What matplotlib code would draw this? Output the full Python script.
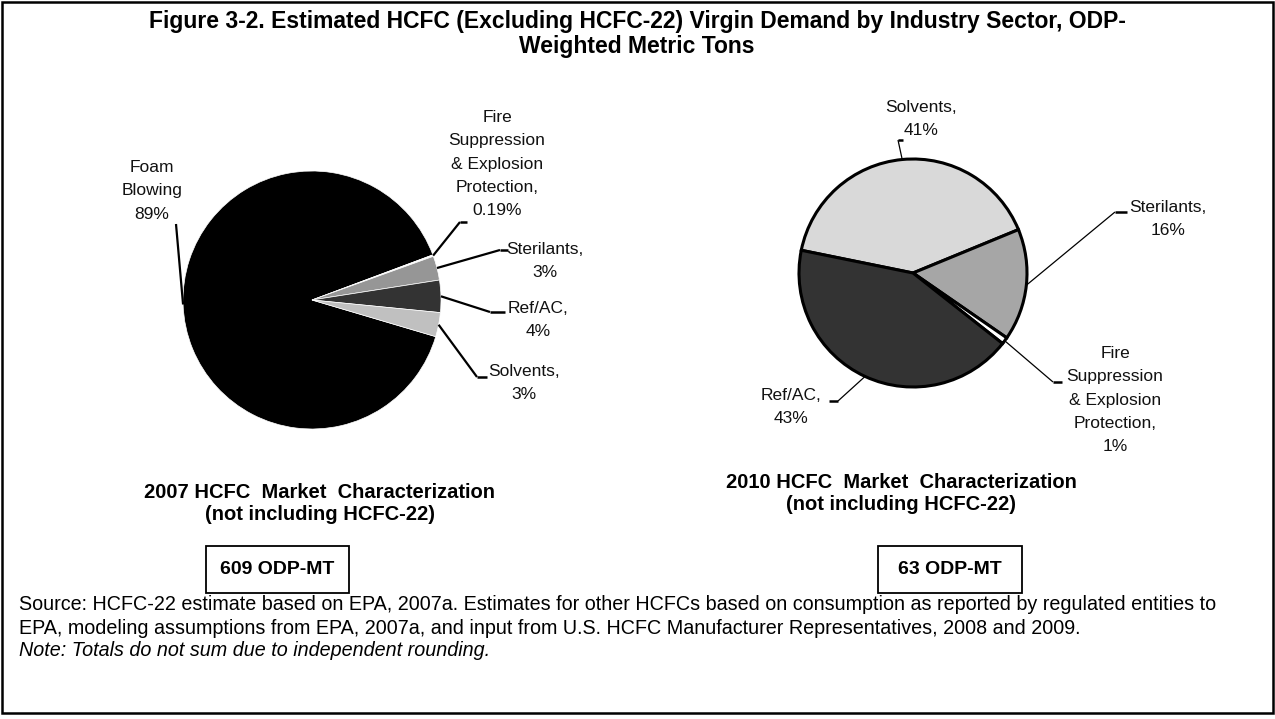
import numpy as np
import matplotlib
matplotlib.use("Agg")
import matplotlib.pyplot as plt
from matplotlib import font_manager
from matplotlib.patches import Rectangle

W, H = 1275, 719

# 2007: clockwise from the Solvents/Foam border
share_2007 = [89, 0.19, 3, 4, 3]
labels_2007 = ["Foam\nBlowing\n89%",
               "Fire\nSuppression\n& Explosion\nProtection,\n0.19%",
               "Sterilants,\n3%", "Ref/AC,\n4%", "Solvents,\n3%"]
colors_2007 = ["#000000", "#ffffff", "#969696", "#333333", "#c0c0c0"]

# 2010: clockwise from the Ref/AC/Solvents border
share_2010 = [41, 16, 1, 43]
labels_2010 = ["Solvents,\n41%", "Sterilants,\n16%",
               "Fire\nSuppression\n& Explosion\nProtection,\n1%", "Ref/AC,\n43%"]
colors_2010 = ["#d9d9d9", "#a6a6a6", "#ffffff", "#333333"]

totals = ["609 ODP-MT", "63 ODP-MT"]
subtitles = ["2007 HCFC  Market  Characterization\n(not including HCFC-22)",
             "2010 HCFC  Market  Characterization\n(not including HCFC-22)"]

TITLE = ("Figure 3-2. Estimated HCFC (Excluding HCFC-22) Virgin Demand by Industry Sector, ODP-\n"
         "Weighted Metric Tons")
SOURCE = ["Source: HCFC-22 estimate based on EPA, 2007a. Estimates for other HCFCs based on consumption as reported by regulated entities to",
          "EPA, modeling assumptions from EPA, 2007a, and input from U.S. HCFC Manufacturer Representatives, 2008 and 2009."]
NOTE = "Note: Totals do not sum due to independent rounding."

names = {f.name for f in font_manager.fontManager.ttflist}
NARROW = next((n for n in ["Liberation Sans Narrow", "Arial Narrow"] if n in names), None)
WIDE = "Liberation Sans"
lab_font = NARROW or WIDE
lab_size = 14.5 if NARROW else 12.5
src_size = 17 if NARROW else 14.2

fig = plt.figure(figsize=(W / 100, H / 100), dpi=100)
fig.patch.set_facecolor("white")


def pie_axes(cx, cy, r, pad=6):
    ax = fig.add_axes([(cx - r - pad) / W, 1 - (cy + r + pad) / H,
                       2 * (r + pad) / W, 2 * (r + pad) / H])
    ax.axis("off")
    return ax


# pie geometry in pixels (centre x, centre y, radius)
pie1 = (312, 300, 129)
pie2 = (913, 273, 114)

ax1 = pie_axes(*pie1)
w1, _ = ax1.pie(share_2007, colors=colors_2007, startangle=-16.5, counterclock=False,
                radius=1, wedgeprops=dict(edgecolor="white", linewidth=0.5))
lim = (pie1[2] + 6) / pie1[2]
ax1.set_xlim(-lim, lim); ax1.set_ylim(-lim, lim)

ax2 = pie_axes(*pie2)
w2, _ = ax2.pie(share_2010, colors=colors_2010, startangle=168.5, counterclock=False,
                radius=1, wedgeprops=dict(edgecolor="black", linewidth=2.2))
lim = (pie2[2] + 6) / pie2[2]
ax2.set_xlim(-lim, lim); ax2.set_ylim(-lim, lim)

ov = fig.add_axes([0, 0, 1, 1])
ov.set_xlim(0, W)
ov.set_ylim(H, 0)
ov.axis("off")
ov.patch.set_alpha(0)

# label placement: text centre, elbow point, end of short horizontal tick
lay_2007 = [((152, 191), (176, 224), None),
            ((497, 164), (460, 222), (467, 222)),
            ((545, 261), (500, 250), (508, 250)),
            ((538, 320), (490, 312), (505, 312)),
            ((524, 383), (477, 377), (487, 377))]
lay_2010 = [((921, 119), (898, 140), (903, 140)),
            ((1168, 219), (1115, 212), (1127, 212)),
            ((1115, 400), (1053, 382), (1062, 382)),
            ((791, 407), (838, 401), (829, 401))]


def leaders(wedges, labels, lay, pie, lw):
    cx, cy, r = pie
    for w, lab, (tpos, elbow, tick) in zip(wedges, labels, lay):
        m = np.deg2rad((w.theta1 + w.theta2) / 2)
        ex, ey = cx + r * np.cos(m), cy - r * np.sin(m)
        ov.plot([ex, elbow[0]], [ey, elbow[1]], color="black", lw=lw, solid_capstyle="butt")
        if tick is not None:
            ov.plot([elbow[0], tick[0]], [elbow[1], tick[1]], color="black", lw=1.8,
                    solid_capstyle="butt")
        ov.text(tpos[0], tpos[1], lab, ha="center", va="center", multialignment="center",
                fontsize=lab_size, family=lab_font, color="#111111", linespacing=1.7)


leaders(w1, labels_2007, lay_2007, pie1, 1.6)
leaders(w2, labels_2010, lay_2010, pie2, 0.9)

ov.text(637, 34, TITLE, ha="center", va="center", fontsize=16.5, family=WIDE,
        fontweight="bold", linespacing=1.1)

for x, y, sub in zip([320, 901], [504, 493], subtitles):
    ov.text(x, y, sub, ha="center", va="center", fontsize=14.5, family=WIDE,
            fontweight="bold", linespacing=1.2)

for (x0, x1), tot in zip([(206, 349), (878, 1022)], totals):
    ov.add_patch(Rectangle((x0, 546), x1 - x0, 47, fill=False, edgecolor="black", lw=1.3))
    ov.text((x0 + x1) / 2, 570, tot, ha="center", va="center", fontsize=14,
            family=lab_font, fontweight="bold")

for y, line in zip([604, 628], SOURCE):
    ov.text(19, y, line, ha="left", va="center", fontsize=src_size, family=lab_font)
ov.text(19, 651, NOTE, ha="left", va="center", fontsize=src_size, family=lab_font,
        style="italic")

ov.add_patch(Rectangle((2, 2), W - 4, 711, fill=False, edgecolor="black", lw=1.8))

fig.savefig("out.png", dpi=100, facecolor="white")
